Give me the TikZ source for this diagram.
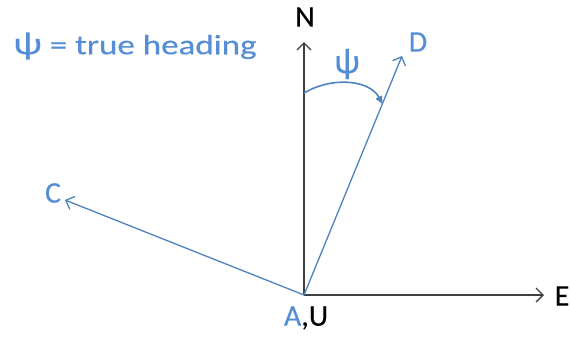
\documentclass[tikz,border=0pt]{standalone}
\usepackage{fontspec}
\setmainfont{Carlito}
\newfontfamily\lblfont{Carlito}[FakeBold=0.3]
\usetikzlibrary{arrows.meta}
\definecolor{lineblue}{HTML}{4F81BD}
\definecolor{textblue}{HTML}{558ED5}
\definecolor{axisgray}{HTML}{404040}
\tikzset{
  axis/.style={draw=axisgray, line width=1.5pt, -{Straight Barb[length=7pt,width=14pt,line width=1.3pt]}},
  vec/.style={draw=lineblue, line width=1.3pt, -{Straight Barb[length=7pt,width=14pt,line width=1.3pt]}},
  bluelbl/.style={text=textblue, font=\lblfont\fontsize{30}{34}\selectfont, inner sep=0pt},
  blacklbl/.style={text=black, font=\lblfont\fontsize{30}{34}\selectfont, inner sep=0pt},
}
\begin{document}
\begin{tikzpicture}[x=1pt,y=-1pt]
\useasboundingbox (0,0) rectangle (570,341);
\coordinate (A) at (304,295);
\coordinate (Ntip) at (304,42);
\coordinate (Etip) at (544,295);
\coordinate (Dtip) at (402,56);
\coordinate (Ctip) at (65,200);
\coordinate (arcS) at (304,93);
\coordinate (arcE) at (383,105);

\draw[axis] (A) -- (Ntip);
\draw[axis] (A) -- (Etip);
\draw[vec] (A) -- (Dtip);
\draw[vec] (A) -- (Ctip);
\draw[draw=lineblue, line width=1.6pt, -{Latex[length=9pt,width=8pt]}]
  (arcS) .. controls (333,76) and (370,80) .. (arcE);

\node[blacklbl] (N) at (305,17) {N};
\node[blacklbl] (E) at (562,296) {E};
\node[bluelbl] (D) at (418,42) {D};
\node[bluelbl] (C) at (53,193) {C};
\node[bluelbl] (AU) at (306,318) {A\textcolor{black}{,U}};
\node[bluelbl] (psi) at (347,64) {\scalebox{1.2}{ψ}};
\node[text=textblue, font=\lblfont\fontsize{28}{32}\selectfont, inner sep=0pt] (title) at (135,46) {\scalebox{1.25}[1]{\scalebox{1.15}{ψ} = true heading}};
\end{tikzpicture}
\end{document}
